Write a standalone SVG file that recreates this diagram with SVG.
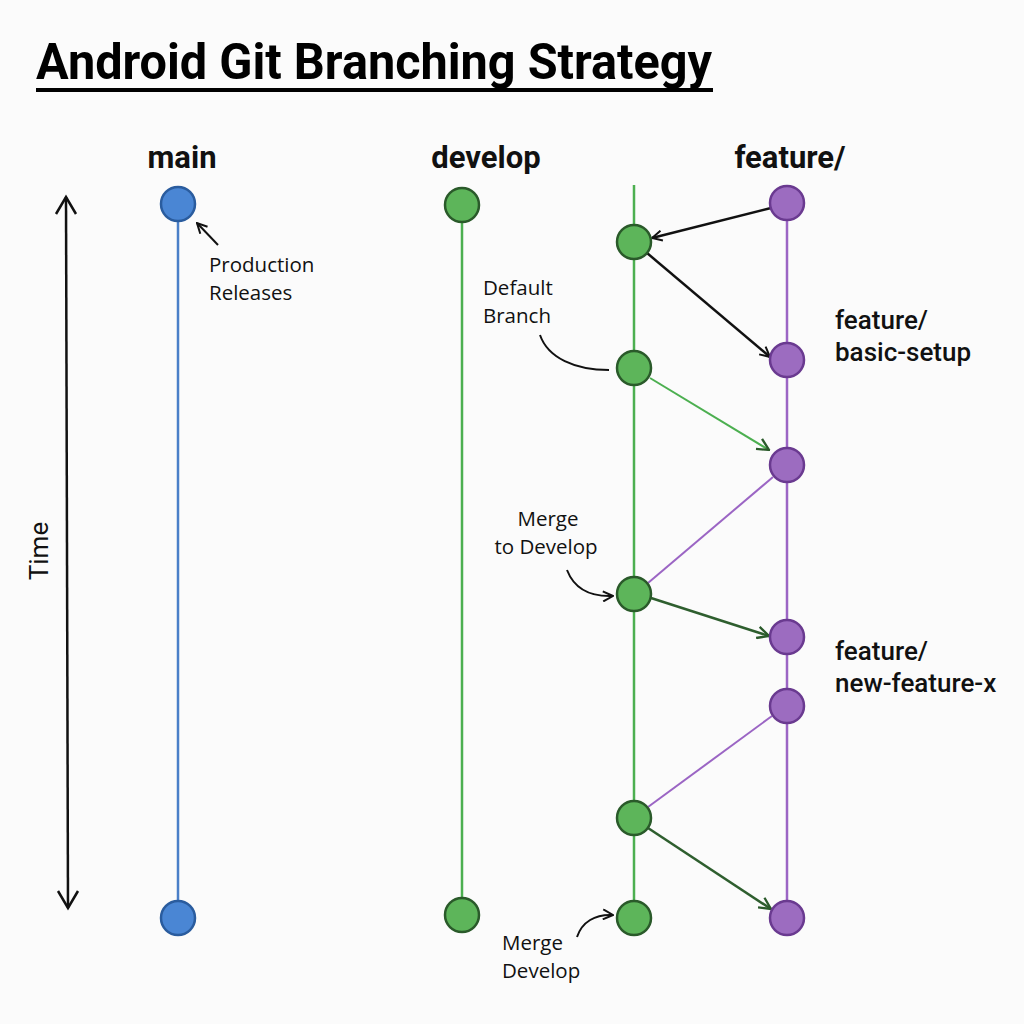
<svg xmlns="http://www.w3.org/2000/svg" width="1024" height="1024" viewBox="0 0 1024 1024">
<defs>
<style>
.title{font-family:Roboto,"Liberation Sans",sans-serif;font-weight:700;font-size:50px;fill:#000}
.head{font-family:Roboto,"Liberation Sans",sans-serif;font-weight:700;font-size:31px;fill:#111}
.lbl{font-family:Roboto,"Liberation Sans",sans-serif;font-weight:500;font-size:26px;fill:#111}
.note{font-family:"Open Sans","Liberation Sans",sans-serif;font-size:20.5px;fill:#111}
.main{fill:#4a86d4;stroke:#2a5c9e;stroke-width:2.5}
.dev{fill:#5db55a;stroke:#2a5a2a;stroke-width:2.5}
.feat{fill:#9c6cc0;stroke:#6a3a90;stroke-width:2.5}
.ann{fill:none;stroke:#111;stroke-width:2}
</style>
<marker id="ahBlack" viewBox="0 0 12 12" refX="11" refY="6" markerWidth="12" markerHeight="12" markerUnits="userSpaceOnUse" orient="auto"><path d="M1,1 L11,6 L1,11" fill="none" stroke="#111" stroke-width="2"/></marker>
<marker id="ahGreen" viewBox="0 0 12 12" refX="11" refY="6" markerWidth="14" markerHeight="14" markerUnits="userSpaceOnUse" orient="auto"><path d="M1,1 L11,6 L1,11" fill="none" stroke="#2a5a2a" stroke-width="2"/></marker>
<marker id="ahSmall" viewBox="0 0 12 12" refX="11" refY="6" markerWidth="12" markerHeight="12" markerUnits="userSpaceOnUse" orient="auto"><path d="M1,1 L11,6 L1,11" fill="none" stroke="#111" stroke-width="2"/></marker>
</defs>
<rect width="1024" height="1024" fill="#fbfbfb"/>

<g id="title">
<text class="title" x="36" y="79" textLength="676" lengthAdjust="spacingAndGlyphs">Android Git Branching Strategy</text>
<rect x="36" y="88" width="677" height="4" fill="#000"/>
</g>

<g id="headers">
<text class="head" x="182" y="168" text-anchor="middle">main</text>
<text class="head" x="486" y="168" text-anchor="middle">develop</text>
<text class="head" x="790" y="168" text-anchor="middle">feature/</text>
</g>

<g id="time-axis">
<line x1="66" y1="197" x2="68" y2="908" stroke="#111" stroke-width="2.5"/>
<path d="M56,214 L66,197 L76,214" fill="none" stroke="#111" stroke-width="2.5"/>
<path d="M58,891 L68,908 L78,891" fill="none" stroke="#111" stroke-width="2.5"/>
<text class="lbl" x="0" y="0" transform="translate(48,551) rotate(-90)" text-anchor="middle" style="font-weight:400;font-size:26px">Time</text>
</g>

<g id="lanes">
<line x1="178" y1="204" x2="178" y2="918" stroke="#4a7fc8" stroke-width="2.5"/>
<line x1="462" y1="205" x2="462" y2="915" stroke="#4caf50" stroke-width="2.5"/>
<line x1="634" y1="185" x2="634" y2="918" stroke="#4caf50" stroke-width="2.5"/>
<line x1="787" y1="203" x2="787" y2="918" stroke="#9b65c4" stroke-width="2.5"/>
</g>

<g id="connectors">
<line x1="771" y1="208" x2="652" y2="238" stroke="#111" stroke-width="2.5" marker-end="url(#ahBlack)"/>
<line x1="647" y1="253" x2="770" y2="357" stroke="#111" stroke-width="2.5" marker-end="url(#ahBlack)"/>
<line x1="650" y1="378" x2="769" y2="450" stroke="#4caf50" stroke-width="2" marker-end="url(#ahGreen)"/>
<line x1="773" y1="477" x2="648" y2="583" stroke="#9b65c4" stroke-width="2"/>
<line x1="651" y1="598" x2="769" y2="636" stroke="#2e5e2e" stroke-width="2.5" marker-end="url(#ahGreen)"/>
<line x1="772" y1="716" x2="648" y2="807" stroke="#9b65c4" stroke-width="2"/>
<line x1="648" y1="828" x2="771" y2="909" stroke="#2e5e2e" stroke-width="2.5" marker-end="url(#ahGreen)"/>
</g>

<g id="main-nodes">
<circle class="main" cx="178" cy="204" r="17"/>
<circle class="main" cx="178" cy="918" r="17"/>
</g>
<g id="develop-nodes">
<circle class="dev" cx="462" cy="205" r="17"/>
<circle class="dev" cx="462" cy="915" r="17"/>
<circle class="dev" cx="634" cy="242" r="17"/>
<circle class="dev" cx="634" cy="368" r="17"/>
<circle class="dev" cx="634" cy="594" r="17"/>
<circle class="dev" cx="634" cy="818" r="17"/>
<circle class="dev" cx="634" cy="918" r="17"/>
</g>
<g id="feature-nodes">
<circle class="feat" cx="787" cy="203" r="17"/>
<circle class="feat" cx="787" cy="360" r="17"/>
<circle class="feat" cx="787" cy="465" r="17"/>
<circle class="feat" cx="787" cy="637" r="17"/>
<circle class="feat" cx="787" cy="706" r="17"/>
<circle class="feat" cx="787" cy="918" r="17"/>
</g>

<g id="branch-labels">
<text class="lbl" x="835" y="329">feature/</text>
<text class="lbl" x="835" y="361">basic-setup</text>
<text class="lbl" x="835" y="660">feature/</text>
<text class="lbl" x="835" y="692">new-feature-x</text>
</g>

<g id="annotations">
<text class="note" x="209" y="272">Production</text>
<text class="note" x="209" y="300">Releases</text>
<line x1="218" y1="245" x2="197" y2="223" class="ann" marker-end="url(#ahSmall)"/>
<text class="note" x="483" y="295">Default</text>
<text class="note" x="483" y="323">Branch</text>
<path d="M540,335 C548,358 575,370 609,370" class="ann"/>
<text class="note" x="548" y="526" text-anchor="middle">Merge</text>
<text class="note" x="546" y="554" text-anchor="middle">to Develop</text>
<path d="M567,570 C574,588 590,597 613,596" class="ann" marker-end="url(#ahSmall)"/>
<text class="note" x="502" y="950">Merge</text>
<text class="note" x="502" y="978">Develop</text>
<path d="M577,937 C582,922 595,914 613,915" class="ann" marker-end="url(#ahSmall)"/>
</g>
</svg>
